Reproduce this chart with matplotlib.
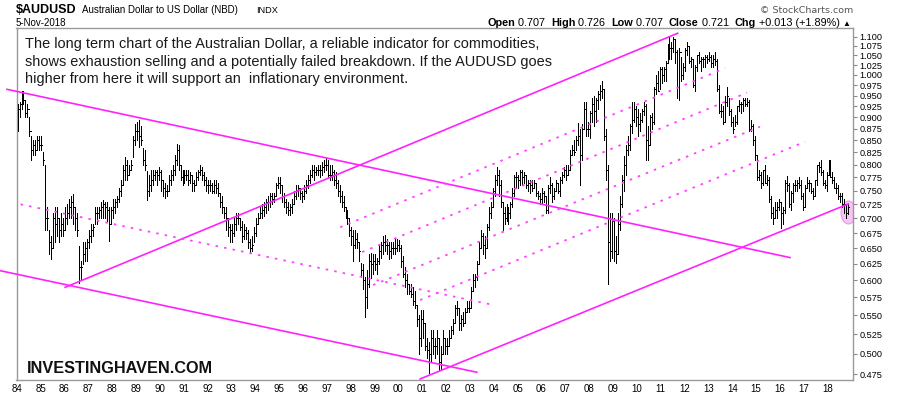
import numpy as np
import matplotlib
matplotlib.use("Agg")
import matplotlib.pyplot as plt
from matplotlib.path import Path
from matplotlib.ticker import FixedLocator, NullLocator

# monthly AUDUSD bars, Jan 1984 .. Nov 2018 (one row per year)
highs = [
    .93, .935, .96, .96, .94, .93, .90, .86, .85, .85, .86, .86,
    .86, .825, .80, .72, .68, .67, .71, .72, .72, .70, .71, .70,
    .72, .725, .735, .74, .743, .72, .71, .653, .63, .66, .66, .665,
    .68, .69, .69, .72, .72, .72, .73, .733, .73, .73, .72, .72,
    .735, .735, .74, .755, .77, .80, .815, .81, .80, .81, .86, .885,
    .89, .893, .88, .833, .83, .788, .78, .79, .79, .79, .79, .795,
    .79, .77, .765, .76, .78, .79, .80, .82, .843, .84, .80, .79,
    .79, .79, .79, .785, .78, .77, .785, .79, .80, .795, .785, .775,
    .77, .77, .765, .77, .77, .765, .745, .74, .72, .72, .70, .69,
    .69, .70, .71, .71, .70, .695, .69, .685, .68, .665, .67, .685,
    .70, .71, .72, .725, .73, .735, .74, .745, .745, .745, .765, .775,
    .775, .76, .745, .735, .73, .725, .735, .75, .76, .76, .755, .75,
    .76, .77, .78, .79, .80, .80, .795, .80, .80, .805, .81, .813,
    .81, .80, .80, .79, .785, .77, .76, .75, .74, .72, .715, .70,
    .686, .68, .68, .675, .66, .627, .625, .605, .616, .64, .643, .64,
    .64, .635, .655, .66, .67, .671, .665, .66, .66, .66, .665, .665,
    .663, .655, .637, .62, .61, .595, .595, .59, .585, .565, .55, .557,
    .557, .54, .52, .515, .53, .53, .52, .53, .52, .51, .53, .52,
    .52, .53, .535, .545, .565, .57, .56, .55, .555, .56, .57, .57,
    .59, .61, .61, .63, .66, .68, .675, .67, .69, .72, .73, .755,
    .78, .796, .79, .77, .73, .72, .725, .72, .73, .755, .78, .785,
    .78, .79, .79, .785, .78, .77, .77, .77, .77, .765, .75, .745,
    .755, .75, .74, .76, .775, .765, .755, .77, .765, .775, .785, .795,
    .80, .80, .83, .84, .85, .86, .887, .875, .885, .935, .935, .89,
    .915, .945, .95, .945, .96, .975, .985, .965, .875, .80, .71, .71,
    .70, .67, .71, .74, .78, .817, .84, .86, .885, .935, .935, .925,
    .92, .91, .92, .935, .93, .88, .905, .91, .97, 1.0, 1.01, 1.02,
    1.02, 1.02, 1.035, 1.08, 1.10, 1.085, 1.10, 1.09, 1.065, 1.07, 1.045, 1.03,
    1.07, 1.085, 1.075, 1.045, 1.04, 1.025, 1.05, 1.06, 1.045, 1.045, 1.05, 1.05,
    1.06, 1.05, 1.05, 1.06, 1.04, .975, .93, .925, .95, .97, .945, .92,
    .90, .905, .925, .94, .935, .945, .945, .945, .94, .895, .885, .86,
    .82, .79, .785, .79, .80, .78, .775, .74, .72, .73, .73, .735,
    .73, .72, .77, .777, .765, .75, .765, .77, .77, .775, .77, .745,
    .76, .775, .77, .765, .755, .77, .80, .805, .81, .79, .77, .785,
    .81, .81, .785, .775, .765, .76, .745, .745, .735, .725, .726,
]
lows = [
    .87, .90, .92, .93, .90, .90, .86, .81, .82, .82, .83, .83,
    .83, .80, .68, .68, .64, .632, .65, .66, .67, .66, .67, .67,
    .68, .69, .70, .70, .69, .68, .67, .596, .60, .625, .63, .63,
    .65, .66, .67, .69, .69, .70, .70, .70, .70, .695, .662, .69,
    .70, .71, .72, .73, .74, .76, .77, .77, .78, .79, .815, .84,
    .85, .836, .84, .80, .79, .733, .74, .75, .76, .77, .76, .77,
    .75, .74, .736, .74, .75, .76, .77, .78, .80, .79, .77, .76,
    .765, .77, .76, .765, .75, .75, .76, .77, .78, .77, .76, .75,
    .745, .75, .745, .745, .745, .74, .72, .71, .70, .68, .67, .66,
    .66, .67, .68, .69, .68, .66, .665, .665, .65, .643, .645, .66,
    .67, .69, .70, .70, .705, .71, .715, .72, .725, .73, .74, .755,
    .745, .73, .72, .71, .706, .706, .71, .725, .735, .74, .735, .73,
    .735, .745, .755, .765, .775, .77, .78, .78, .775, .78, .785, .79,
    .775, .77, .77, .76, .755, .74, .73, .72, .713, .70, .69, .67,
    .655, .63, .65, .65, .63, .605, .587, .548, .56, .59, .604, .61,
    .615, .61, .625, .635, .64, .645, .64, .632, .635, .64, .64, .645,
    .645, .62, .605, .59, .58, .58, .575, .565, .56, .535, .50, .51,
    .52, .505, .495, .477, .49, .50, .495, .50, .48, .48, .50, .50,
    .50, .51, .52, .525, .54, .55, .53, .53, .535, .54, .555, .555,
    .56, .585, .59, .60, .625, .65, .64, .635, .65, .68, .70, .72,
    .74, .76, .74, .72, .68, .69, .695, .69, .70, .72, .74, .755,
    .755, .76, .76, .765, .755, .75, .745, .75, .755, .74, .735, .725,
    .725, .73, .71, .71, .745, .73, .735, .75, .745, .74, .765, .775,
    .77, .78, .79, .82, .82, .83, .84, .76, .81, .875, .86, .86,
    .855, .89, .88, .89, .92, .94, .945, .85, .77, .595, .63, .635,
    .63, .627, .64, .68, .72, .75, .78, .82, .83, .865, .89, .88,
    .86, .87, .89, .905, .81, .81, .84, .875, .885, .955, .96, .965,
    .98, .985, .985, 1.03, 1.04, 1.04, 1.06, 1.03, .945, .94, .985, .99,
    1.01, 1.05, 1.03, 1.02, .97, .96, 1.01, 1.03, 1.01, 1.02, 1.02, 1.03,
    1.035, 1.02, 1.02, 1.025, .96, .91, .90, .885, .89, .925, .905, .88,
    .865, .88, .885, .915, .91, .915, .925, .925, .87, .87, .84, .81,
    .77, .77, .755, .76, .765, .76, .73, .70, .69, .70, .70, .715,
    .683, .69, .71, .75, .72, .715, .73, .75, .75, .755, .735, .715,
    .72, .755, .75, .745, .735, .74, .76, .785, .78, .76, .755, .75,
    .78, .775, .765, .755, .745, .735, .73, .72, .71, .70, .707,
]
closes = [
    .92, .93, .95, .94, .91, .92, .87, .83, .84, .83, .85, .84,
    .84, .81, .70, .70, .66, .65, .70, .69, .70, .68, .69, .68,
    .70, .71, .72, .73, .72, .70, .68, .62, .62, .64, .65, .66,
    .67, .68, .685, .71, .71, .715, .72, .725, .72, .715, .69, .715,
    .72, .73, .735, .75, .76, .79, .80, .78, .79, .80, .85, .87,
    .87, .86, .85, .81, .80, .75, .76, .77, .78, .785, .78, .785,
    .77, .755, .75, .75, .77, .78, .79, .81, .83, .80, .775, .77,
    .78, .78, .77, .78, .765, .76, .775, .785, .79, .78, .77, .76,
    .76, .76, .75, .76, .755, .745, .73, .72, .71, .70, .685, .68,
    .675, .69, .70, .70, .685, .67, .68, .675, .66, .65, .655, .675,
    .69, .70, .71, .715, .72, .73, .73, .74, .735, .74, .76, .765,
    .76, .74, .73, .72, .715, .72, .725, .74, .75, .755, .745, .74,
    .75, .76, .77, .78, .79, .785, .79, .79, .79, .795, .80, .80,
    .78, .78, .785, .77, .765, .75, .74, .73, .72, .71, .70, .68,
    .67, .655, .665, .66, .645, .615, .60, .575, .595, .63, .625, .63,
    .625, .63, .645, .655, .66, .655, .655, .645, .65, .65, .65, .655,
    .65, .63, .61, .60, .595, .585, .58, .57, .565, .545, .52, .545,
    .54, .51, .505, .50, .52, .51, .51, .52, .49, .50, .52, .51,
    .51, .52, .53, .54, .56, .56, .54, .545, .54, .555, .56, .56,
    .585, .60, .605, .625, .65, .67, .655, .65, .685, .71, .72, .75,
    .77, .78, .76, .73, .71, .70, .70, .71, .725, .745, .775, .775,
    .77, .785, .775, .78, .76, .765, .76, .755, .765, .745, .74, .735,
    .745, .74, .715, .755, .76, .74, .75, .765, .75, .77, .78, .79,
    .78, .79, .82, .83, .825, .85, .86, .82, .875, .92, .875, .875,
    .91, .93, .915, .94, .955, .96, .965, .86, .79, .66, .645, .695,
    .645, .64, .69, .725, .77, .80, .83, .84, .88, .895, .92, .90,
    .885, .895, .915, .925, .85, .84, .90, .89, .965, .98, .96, 1.015,
    1.0, 1.015, 1.03, 1.065, 1.07, 1.07, 1.095, 1.06, .97, 1.06, 1.0, 1.02,
    1.065, 1.075, 1.035, 1.04, .975, 1.02, 1.05, 1.035, 1.04, 1.04, 1.045, 1.04,
    1.045, 1.03, 1.04, 1.035, .965, .915, .915, .89, .935, .95, .915, .89,
    .875, .89, .925, .93, .93, .94, .93, .935, .875, .88, .85, .82,
    .775, .78, .765, .79, .765, .77, .735, .71, .70, .715, .72, .73,
    .71, .715, .765, .76, .725, .745, .76, .76, .765, .76, .74, .72,
    .755, .765, .765, .75, .74, .77, .80, .795, .785, .765, .76, .78,
    .81, .775, .77, .755, .755, .74, .74, .725, .725, .71, .721,
]

# hand drawn trend lines: (year, price) start and end
solid_lines = [
    ((1983.59, 0.965), (2016.42, 0.635)),
    ((1983.31, 0.6146), (2003.29, 0.4774)),
    ((1986.03, 0.5897), (2011.71, 1.1094)),
    ((2000.91, 0.4695), (2018.86, 0.7256)),
]
dotted_lines = [
    ((1983.45, 0.7315), (2003.98, 0.5644)),
    ((1997.56, 0.6848), (2013.69, 1.0168)),
    ((1998.48, 0.6438), (2014.62, 0.957)),
    ((1998.94, 0.5931), (2015.16, 0.8793)),
    ((2000.91, 0.5713), (2017.05, 0.8471)),
]
marker_spot = (2018.85, 0.712)

ytick_vals = [0.475, 0.5, 0.525, 0.55, 0.575, 0.6, 0.625, 0.65, 0.675, 0.7,
              0.725, 0.75, 0.775, 0.8, 0.825, 0.85, 0.875, 0.9, 0.925, 0.95,
              0.975, 1.0, 1.025, 1.05, 1.075, 1.1]
years = list(range(1984, 2019))

note = ["The long term chart of the Australian Dollar, a reliable indicator for commodities,",
        "shows exhaustion selling and a potentially failed breakdown. If the AUDUSD goes",
        "higher from here it will support an  inflationary environment."]

W, H = 900, 396
FONT = ["Liberation Sans", "DejaVu Sans"]
MAG = "#ff22ff"


def fx(x):
    return x / W


def fy(y):
    return 1 - y / H


fig = plt.figure(figsize=(9, 3.96), dpi=100)
ax = fig.add_axes([fx(16.5), fy(380), (853 - 16.5) / W, 352 / H])
ax.set_yscale("log")
ax.set_xlim(1983.99, 2019.06)
ax.set_ylim(0.4683, 1.124)

t = 1984 + (np.arange(len(closes)) + 0.4) / 12
ell = Path(Path.unit_circle().vertices * [0.65, 1.0], Path.unit_circle().codes)
ax.plot([marker_spot[0]], [marker_spot[1]], ls="none", marker=ell, ms=16.5,
        mfc="#f6c4f6", mec="#e69ae6", mew=0.8, zorder=1)
ax.vlines(t, lows, highs, color="black", lw=0.72, antialiased=False, zorder=3)
ax.hlines(closes, t, t + 0.045, color="black", lw=0.72, antialiased=False, zorder=3)

for (x0, y0), (x1, y1) in solid_lines:
    ax.plot([x0, x1], [y0, y1], color=MAG, lw=1.2, clip_on=False, zorder=4)
for (x0, y0), (x1, y1) in dotted_lines:
    ax.plot([x0, x1], [y0, y1], color="#ff44ff", lw=1.3, ls=(0, (1.4, 3.4)), zorder=4)

ax.yaxis.tick_right()
ax.yaxis.set_major_locator(FixedLocator(ytick_vals))
ax.yaxis.set_minor_locator(NullLocator())
ax.set_yticklabels([f"{v:.3f}" for v in ytick_vals], fontsize=6.6, family=FONT)
ax.tick_params(axis="y", which="major", direction="out", length=3, width=0.8,
               color="#888888", pad=1.5)
ax.set_xticks(years)
ax.set_xticklabels([f"{y % 100:02d}" for y in years], fontsize=7.0, family=FONT)
ax.tick_params(axis="x", length=0, pad=3)
for s in ax.spines.values():
    s.set_color("#999999")
    s.set_linewidth(1.0)

# header
fig.text(fx(16), fy(13.3), "$AUDUSD", fontsize=9, weight="bold", family=FONT, va="baseline")
fig.text(fx(82), fy(13.3), "Australian Dollar to US Dollar (NBD)", fontsize=7.0,
         family=FONT, va="baseline")
fig.text(fx(256), fy(13.3), "INDX", fontsize=6.6, family=FONT, va="baseline")
fig.text(fx(16), fy(26), "5-Nov-2018", fontsize=7.0, family=FONT, va="baseline")
fig.text(fx(853), fy(12.7), "\u00a9 StockCharts.com", fontsize=6.8, family=["DejaVu Sans"],
         color="#555555", va="baseline", ha="right")

# Open / High / Low / Close line, drawn piece by piece
pieces = [("Open", True), (" 0.707  ", False), ("High", True), (" 0.726  ", False),
          ("Low", True), (" 0.707  ", False), ("Close", True), (" 0.721  ", False),
          ("Chg", True), (" +0.013 (+1.89%) ", False), ("\u25b2", False)]
r = fig.canvas.get_renderer()
xpos = 487
for txt, bold in pieces:
    sz = 5.8 if txt == "\u25b2" else 7.8
    tt = fig.text(fx(xpos), fy(26), txt, fontsize=sz, weight="bold" if bold else "normal",
                  family=FONT, va="baseline")
    xpos = tt.get_window_extent(r).x1

for i, line in enumerate(note):
    fig.text(fx(25), fy(48.3 + 17.5 * i), line, fontsize=10.45, family=FONT,
             color="#1a1a1a", va="baseline")

fig.text(fx(27), fy(373.3), "INVESTINGHAVEN.COM", fontsize=11.7, weight="bold",
         family=FONT, color="#111111", va="baseline")

fig.savefig("out.png", dpi=100)
